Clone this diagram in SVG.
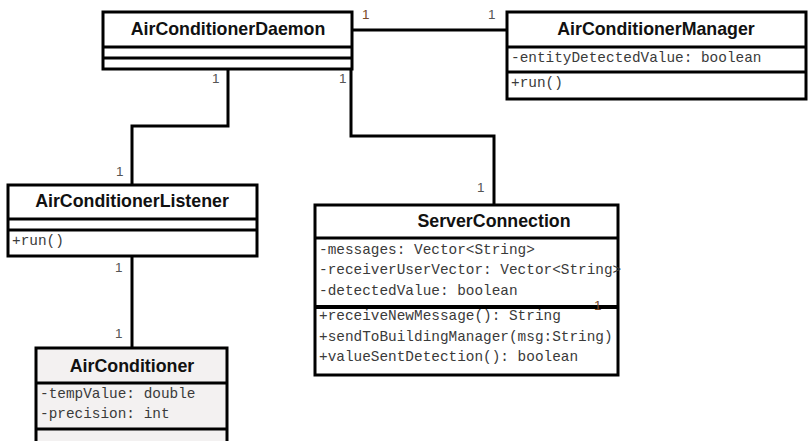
<svg xmlns="http://www.w3.org/2000/svg" width="810" height="441" viewBox="0 0 810 441">
  <style>
    .box { fill: #ffffff; stroke: #000000; stroke-width: 3; }
    .grey { fill: #f3f1f1; }
    .div { stroke: #000000; stroke-width: 3; }
    .title { font-family: "Liberation Sans", Arial, sans-serif; font-size: 17.8px; font-weight: bold; fill: #111111; text-anchor: middle; }
    .mem { font-family: "Liberation Mono", "Courier New", monospace; font-size: 14.4px; fill: #3a3a3a; }
    .mult { font-family: "Liberation Sans", Arial, sans-serif; font-size: 13.5px; fill: #555555; }
    .wire { fill: none; stroke: #000000; stroke-width: 3; }
  </style>

  <!-- associations -->
  <g id="connectors">
    <polyline class="wire" points="352,30 507,30"/>
    <polyline class="wire" points="228,69 228,126 132,126 132,185"/>
    <polyline class="wire" points="351,69 351,136 494,136 494,205"/>
    <polyline class="wire" points="132,256 132,348"/>
    <text class="mult" x="362" y="19" style="fill:#7a4a2a">1</text>
    <text class="mult" x="488" y="19">1</text>
    <text class="mult" x="212" y="83">1</text>
    <text class="mult" x="339" y="83">1</text>
    <text class="mult" x="116" y="176">1</text>
    <text class="mult" x="477" y="192">1</text>
    <text class="mult" x="115" y="272">1</text>
    <text class="mult" x="115" y="338">1</text>
  </g>

  <g id="AirConditionerDaemon">
    <rect class="box" x="103" y="12" width="249" height="57"/>
    <line class="div" x1="103" y1="47" x2="352" y2="47"/>
    <line class="div" x1="103" y1="58" x2="352" y2="58"/>
    <text class="title" x="228" y="35">AirConditionerDaemon</text>
  </g>

  <g id="AirConditionerManager">
    <rect class="box" x="507" y="12" width="299" height="87"/>
    <line class="div" x1="507" y1="47" x2="806" y2="47"/>
    <line class="div" x1="507" y1="72" x2="806" y2="72"/>
    <text class="title" x="656" y="35">AirConditionerManager</text>
    <text class="mem" x="511" y="62">-entityDetectedValue: boolean</text>
    <text class="mem" x="511" y="87">+run()</text>
  </g>

  <g id="AirConditionerListener">
    <rect class="box" x="8" y="185" width="249" height="71"/>
    <line class="div" x1="8" y1="219" x2="257" y2="219"/>
    <line class="div" x1="8" y1="230" x2="257" y2="230"/>
    <text class="title" x="132" y="207">AirConditionerListener</text>
    <text class="mem" x="12" y="245">+run()</text>
  </g>

  <g id="ServerConnection">
    <rect class="box" x="315" y="205" width="303" height="170"/>
    <line class="div" x1="315" y1="238" x2="618" y2="238"/>
    <line class="div" x1="315" y1="307" x2="618" y2="307" style="stroke-width:4"/>
    <text class="title" x="494" y="227">ServerConnection</text>
    <text class="mem" x="319" y="254">-messages: Vector&lt;String&gt;</text>
    <text class="mem" x="319" y="274">-receiverUserVector: Vector&lt;String&gt;</text>
    <text class="mem" x="319" y="295">-detectedValue: boolean</text>
    <text class="mem" x="319" y="320">+receiveNewMessage(): String</text>
    <text class="mem" x="319" y="341">+sendToBuildingManager(msg:String)</text>
    <text class="mem" x="319" y="361">+valueSentDetection(): boolean</text>
    <text class="mult" x="594" y="310" style="fill:#7a4a2a">1</text>
  </g>

  <g id="AirConditioner">
    <rect class="box grey" x="36" y="348" width="191" height="100"/>
    <line class="div" x1="36" y1="383" x2="227" y2="383"/>
    <line class="div" x1="36" y1="429" x2="227" y2="429"/>
    <text class="title" x="132" y="372">AirConditioner</text>
    <text class="mem" x="40" y="398">-tempValue: double</text>
    <text class="mem" x="40" y="418">-precision: int</text>
  </g>
</svg>
